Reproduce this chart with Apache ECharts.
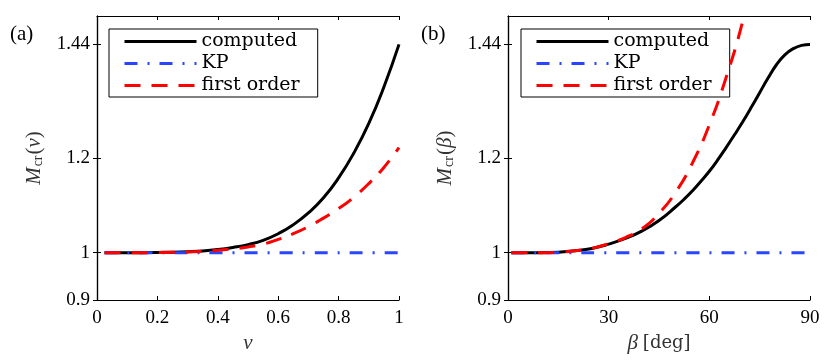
<!DOCTYPE html>
<html>
<head>
<meta charset="utf-8">
<title>M_cr</title>
<script src="https://cdn.jsdelivr.net/npm/echarts@6.0.0/dist/echarts.min.js"></script>
<style>
  html, body { margin: 0; padding: 0; background: #fff; }
  #main { width: 830px; height: 360px; }
</style>
</head>
<body>
<div id="main"></div>
<script>
// 数据 (a): M_cr 随 nu 变化
var nuValues = [0.025, 0.05, 0.1, 0.15, 0.2, 0.25, 0.3, 0.35, 0.4, 0.45, 0.5, 0.55, 0.6, 0.65, 0.7, 0.75, 0.8, 0.85, 0.9, 0.95, 1.0];
var computedNu = [1.0, 1.0, 1.0, 1.0, 1.0005, 1.001, 1.002, 1.0035, 1.0065, 1.011, 1.017, 1.026, 1.040, 1.059, 1.084, 1.116, 1.158, 1.21, 1.273, 1.35, 1.44];
var firstOrderNu = [1.0, 1.0, 1.0, 1.0, 1.0003, 1.0008, 1.0015, 1.003, 1.005, 1.008, 1.012, 1.018, 1.028, 1.040, 1.055, 1.073, 1.093, 1.117, 1.146, 1.180, 1.222];
var kpNuRange = [0.025, 1.0];

// 数据 (b): M_cr 随 beta (度) 变化
var betaValues = [1, 5, 10, 15, 20, 25, 30, 35, 40, 45, 50, 52.5, 55, 57.5, 60, 62.5, 65, 67.5, 70, 72.5, 75, 77.5, 80, 82.5, 85, 87.5, 90];
var computedBeta = [1.0, 1.0, 1.0, 1.001, 1.004, 1.009, 1.018, 1.030, 1.046, 1.068, 1.097, 1.113, 1.131, 1.151, 1.172, 1.196, 1.222, 1.249, 1.277, 1.307, 1.338, 1.369, 1.397, 1.418, 1.431, 1.438, 1.44];
var betaFirst = [1, 5, 10, 15, 20, 25, 30, 35, 40, 45, 50, 55, 60, 65, 70, 75];
var firstOrderBeta = [1.0, 1.0, 1.0, 1.001, 1.004, 1.009, 1.019, 1.032, 1.051, 1.083, 1.128, 1.19, 1.27, 1.37, 1.49, 1.64];
var kpBetaRange = [1, 90];

// 刻度
var yTicks = [0.9, 1, 1.2, 1.44];
var legendNames = ['computed', 'KP', 'first order'];

function pairs(xs, ys) {
    return xs.map(function (x, i) { return [x, ys[i]]; });
}

var labelFont = { fontFamily: 'Liberation Serif', fontSize: 19, color: '#000' };
var axisLine = { show: true, lineStyle: { color: '#000', width: 1.2 } };
var tickIn = { show: true, inside: true, length: 4, lineStyle: { color: '#000', width: 1 } };
var nameRich = {
    i: { fontFamily: 'Liberation Serif', fontStyle: 'italic', fontSize: 21, color: '#333' },
    p: { fontFamily: 'Liberation Serif', fontSize: 21, color: '#333' },
    sub: { fontFamily: 'Liberation Serif', fontSize: 14, color: '#333', verticalAlign: 'bottom', lineHeight: 14, padding: [13, 1, 0, 1] },
    r: { fontFamily: 'DejaVu Serif', fontSize: 18, color: '#333' }
};

function xAxisPair(grid, min, max, interval, name) {
    return [
        {
            type: 'value', gridIndex: grid, min: min, max: max, interval: interval,
            axisLine: axisLine, axisTick: tickIn, splitLine: { show: false },
            axisLabel: Object.assign({ margin: 9 }, labelFont),
            name: name, nameLocation: 'middle', nameGap: 28,
            nameTextStyle: { fontFamily: 'Liberation Serif', fontSize: 20, color: '#333', rich: nameRich }
        },
        {
            type: 'value', gridIndex: grid, position: 'top', min: min, max: max, interval: interval,
            axisLine: axisLine, axisTick: tickIn, axisLabel: { show: false }, splitLine: { show: false }
        }
    ];
}

function yAxisPair(grid, name) {
    return [
        {
            type: 'value', gridIndex: grid, min: 0.9, max: 1.5,
            axisLine: axisLine, splitLine: { show: false },
            axisTick: Object.assign({ customValues: yTicks }, tickIn),
            axisLabel: Object.assign({ margin: 7, customValues: yTicks }, labelFont),
            name: name, nameLocation: 'middle', nameRotate: 90, nameGap: 52,
            nameTextStyle: { fontFamily: 'Liberation Serif', fontSize: 21, color: '#333', rich: nameRich }
        },
        {
            type: 'value', gridIndex: grid, position: 'right', min: 0.9, max: 1.5,
            axisLine: axisLine, splitLine: { show: false },
            axisTick: Object.assign({ customValues: yTicks }, tickIn),
            axisLabel: { show: false, customValues: yTicks }
        }
    ];
}

function lineSeries(name, xi, yi, data, color, type, z) {
    return {
        name: name, type: 'line', xAxisIndex: xi, yAxisIndex: yi,
        data: data, smooth: 0.5, symbol: 'none', z: z,
        lineStyle: { color: color, width: 3, type: type },
        itemStyle: { color: color }
    };
}

function legendAt(left) {
    return {
        data: legendNames, orient: 'vertical', left: left, top: 29,
        borderColor: '#000', borderWidth: 1, padding: [3, 18, 2, 14],
        itemWidth: 72, itemHeight: 14, itemGap: 3,
        lineStyle: { width: 3 },
        itemStyle: { opacity: 0 },
        textStyle: { fontFamily: 'DejaVu Serif', fontSize: 19, color: '#000' },
        selectedMode: false
    };
}

var myChart = echarts.init(document.getElementById('main'));

var dashRed = [16, 11];
var dashDotBlue = [13, 10, 2, 10];

var option = {
    animation: false,
    title: [
        { text: '(a)', left: 5, top: 19, textStyle: { fontFamily: 'Liberation Serif', fontSize: 21, fontWeight: 'normal', color: '#000' } },
        { text: '(b)', left: 416, top: 19, textStyle: { fontFamily: 'Liberation Serif', fontSize: 21, fontWeight: 'normal', color: '#000' } }
    ],
    grid: [
        { left: 97, right: 431, top: 16, bottom: 60 },
        { left: 508, right: 20, top: 16, bottom: 60 }
    ],
    legend: [legendAt(109), legendAt(521)],
    xAxis: xAxisPair(0, 0, 1, 0.2, '{i|ν}').concat(xAxisPair(1, 0, 90, 30, '{i|β} {r|[deg]}')),
    yAxis: yAxisPair(0, '{i|M}{sub|cr}{p|(}{i|ν}{p|)}').concat(yAxisPair(1, '{i|M}{sub|cr}{p|(}{i|β}{p|)}')),
    series: [
        lineSeries('computed', 0, 0, pairs(nuValues, computedNu), '#000', 'solid', 2),
        lineSeries('KP', 0, 0, pairs(kpNuRange, [1, 1]), '#2a45ff', dashDotBlue, 3),
        lineSeries('first order', 0, 0, pairs(nuValues, firstOrderNu), '#ff0000', dashRed, 4),
        lineSeries('computed', 2, 2, pairs(betaValues, computedBeta), '#000', 'solid', 2),
        lineSeries('KP', 2, 2, pairs(kpBetaRange, [1, 1]), '#2a45ff', dashDotBlue, 3),
        lineSeries('first order', 2, 2, pairs(betaFirst, firstOrderBeta), '#ff0000', dashRed, 4)
    ]
};

myChart.setOption(option);
</script>
</body>
</html>
